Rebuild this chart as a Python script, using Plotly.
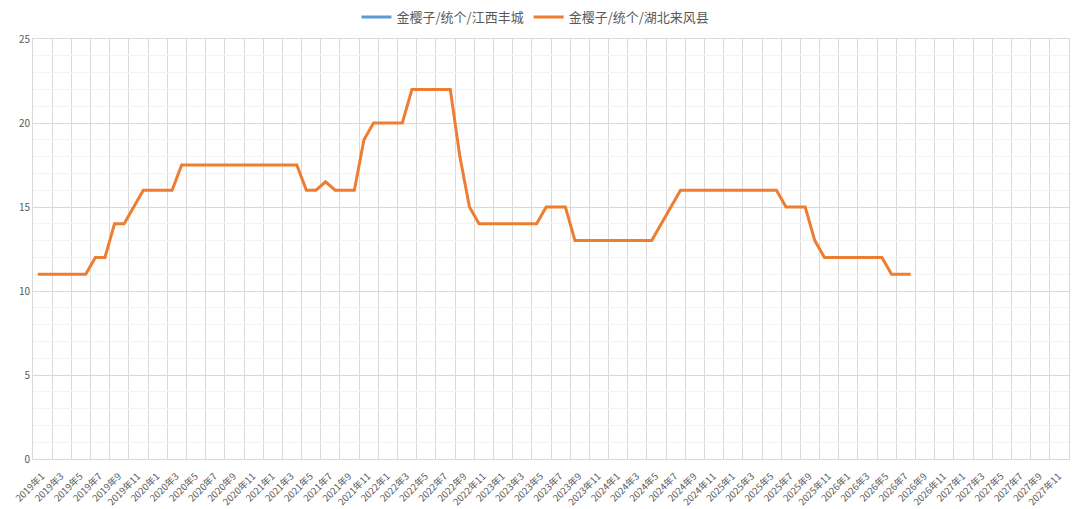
import plotly.graph_objects as go

# monthly categories 2019年1 .. 2027年12
years = list(range(2019, 2028))
months = [f"{y}年{m}" for y in years for m in range(1, 13)]

series_names = ["金樱子/统个/江西丰城", "金樱子/统个/湖北来风县"]

# 江西丰城 has no visible values
jiangxi = [None] * len(months)

# 湖北来风县, 2019年1 .. 2026年8
hubei = [
    11, 11, 11, 11, 11, 11, 12, 12, 14, 14, 15, 16,
    16, 16, 16, 17.5, 17.5, 17.5, 17.5, 17.5, 17.5, 17.5, 17.5, 17.5,
    17.5, 17.5, 17.5, 17.5, 16, 16, 16.5, 16, 16, 16, 19, 20,
    20, 20, 20, 22, 22, 22, 22, 22, 18, 15, 14, 14,
    14, 14, 14, 14, 14, 15, 15, 15, 13, 13, 13, 13,
    13, 13, 13, 13, 13, 14, 15, 16, 16, 16, 16, 16,
    16, 16, 16, 16, 16, 16, 15, 15, 15, 13, 12, 12,
    12, 12, 12, 12, 12, 11, 11, 11,
]

font = "Noto Sans CJK SC"
grid = "#d9d9d9"

idx = list(range(len(months)))

# page has an 8px body margin, so the figure is drawn 8px smaller
W, H = 1072, 501
ML, MR, MT, MB = 25, 11, 31, 50

fig = go.Figure()
fig.add_trace(go.Scatter(x=idx, y=jiangxi, mode="lines", name=series_names[0],
                         line=dict(color="#5b9bd5", width=3)))
fig.add_trace(go.Scatter(x=idx[:len(hubei)], y=hubei, mode="lines", name=series_names[1],
                         line=dict(color="#ed7d31", width=3)))

fig.update_layout(
    width=W, height=H,
    margin=dict(l=ML, r=MR, t=MT, b=MB),
    paper_bgcolor="white", plot_bgcolor="white",
    font=dict(family=font, color="#595959"),
    showlegend=True,
    legend=dict(orientation="h", x=0.485, xanchor="center", yref="container",
                y=1 - 9 / H, yanchor="middle", font=dict(size=13, color="#595959"),
                tracegroupgap=0),
    xaxis=dict(
        range=[-0.5, len(months) - 0.5], automargin=False,
        tickmode="array", tickvals=idx[::2], ticktext=months[::2],
        tickangle=-45, tickfont=dict(size=9.5, color="#595959"),
        ticklabeloverflow="allow", ticklabelstandoff=7, ticklabelshift=4,
        showgrid=False,
        minor=dict(tickmode="array", tickvals=[i - 0.5 for i in idx[::2]],
                   showgrid=True, gridcolor=grid, gridwidth=1, ticks=""),
        showline=True, mirror=True, linecolor=grid, ticks="", zeroline=False,
    ),
    yaxis=dict(
        range=[0, 25], dtick=5, automargin=False,
        tickfont=dict(size=10, color="#595959"),
        showgrid=True, gridcolor=grid, gridwidth=1,
        minor=dict(dtick=1, showgrid=True, gridcolor="#f3f3f3", gridwidth=1),
        showline=True, mirror=True, linecolor=grid, zeroline=False, ticks="",
    ),
)

fig.write_html("out.html")
